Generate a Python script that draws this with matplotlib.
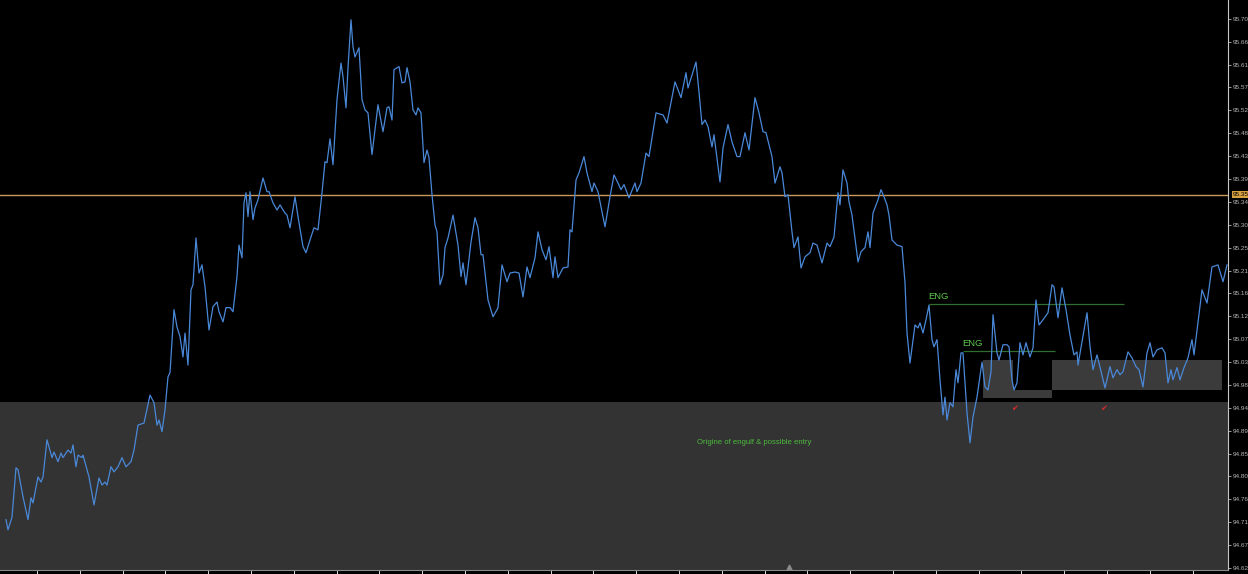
import matplotlib
matplotlib.use('Agg')
import matplotlib.pyplot as plt
from matplotlib.patches import Rectangle
import numpy as np

plt.rcParams['font.family'] = ['Liberation Sans', 'DejaVu Sans']

# price path (bar index, close)
bars = [6, 8, 12, 16, 18, 23, 28, 31, 33, 38, 41, 43, 47, 52, 54, 58, 61, 63, 68, 71,
        73, 76, 78, 82, 83, 89, 94, 99, 102, 105, 107, 111, 114, 118, 122, 126, 131, 134, 138, 144,
        150, 154, 157, 159, 162, 165, 168,
        170, 174, 177, 180, 183, 185, 188, 191, 193, 196, 199, 202, 205, 209, 213, 217, 219, 223, 226, 230,
        233, 237, 239, 242, 244, 246, 248, 250, 253, 255, 258, 263, 267, 269, 273, 277, 280, 285, 287, 290,
        295, 298, 303, 306, 310, 314, 318, 322, 325, 327, 330, 333, 337, 341, 343, 346, 348, 351,
        353, 355, 359, 362, 365, 368, 372, 378, 383, 387, 389, 392, 394, 399, 402, 405, 407, 410, 413, 416,
        418, 421, 424, 427, 429, 432, 435, 437, 440, 443, 445, 448, 453, 458, 461, 463, 466, 471, 475, 478,
        481, 483, 488, 493, 497, 498, 502, 507, 510, 515, 519, 523,
        527, 530, 535, 538, 542, 546, 549, 553, 555, 558, 563, 568, 570, 572, 576, 579, 584, 587, 592, 594,
        598, 605, 610, 614, 618, 621, 624, 629, 635, 637, 641, 646, 649, 656, 663, 667, 675, 681, 686, 688, 696,
        699, 702, 705, 708, 712, 714, 720, 723, 728, 732, 737, 740, 745, 749, 755, 759, 763, 766, 772, 775,
        780, 782, 785, 788, 792, 794, 798, 801, 805, 810, 813, 817, 822, 827, 830, 834, 838, 840, 843, 847,
        849, 852, 858, 861, 865, 868, 870, 873, 878, 881, 884, 887, 889, 892,
        897, 902, 905, 907, 910, 915, 918, 920, 923, 926, 929, 932, 934, 937, 940, 943, 945, 947, 950, 953,
        956, 958, 961, 963, 967, 970, 973, 977, 982, 985, 988, 991, 993, 997, 999, 1003, 1007, 1009, 1012, 1014,
        1017, 1020, 1023, 1026, 1030, 1033, 1036, 1039, 1043,
        1048, 1052, 1054, 1058, 1062, 1066, 1070, 1074, 1077, 1078, 1082, 1087, 1090, 1093, 1097, 1099, 1105, 1110,
        1113, 1117, 1120, 1123, 1128, 1132, 1136, 1139, 1143, 1147, 1150, 1153, 1157, 1162, 1165, 1168, 1171, 1173,
        1177, 1180, 1184, 1188, 1192, 1194, 1202, 1207, 1212, 1218, 1223, 1227]

prices = [94.715, 94.695, 94.720, 94.817, 94.813, 94.760, 94.715, 94.758, 94.748, 94.799,
          94.789, 94.799, 94.872, 94.837, 94.848, 94.829, 94.846, 94.837, 94.852, 94.846,
          94.862, 94.819, 94.842, 94.837, 94.842, 94.799, 94.744, 94.797, 94.783, 94.789,
          94.783, 94.819, 94.809, 94.819, 94.837, 94.819, 94.829, 94.852, 94.901, 94.905,
          94.960, 94.945, 94.901, 94.911, 94.888, 94.931, 94.996,
          95.004, 95.128, 95.094, 95.075, 95.035, 95.082, 95.019, 95.167, 95.177, 95.269,
          95.200, 95.216, 95.173, 95.088, 95.134, 95.143, 95.124, 95.104, 95.132, 95.132,
          95.124, 95.193, 95.255, 95.230, 95.338, 95.358, 95.311, 95.360, 95.305, 95.328,
          95.344, 95.387, 95.360, 95.360, 95.338, 95.324, 95.334, 95.318, 95.314, 95.289,
          95.350, 95.311, 95.252, 95.240, 95.265, 95.289, 95.285, 95.358, 95.419, 95.417,
          95.464, 95.413, 95.541, 95.613, 95.586, 95.525, 95.604, 95.698,
          95.645, 95.625, 95.643, 95.541, 95.521, 95.515, 95.433, 95.531, 95.478, 95.525,
          95.527, 95.501, 95.600, 95.606, 95.574, 95.576, 95.604, 95.576, 95.521, 95.511,
          95.525, 95.515, 95.417, 95.442, 95.427, 95.354, 95.295, 95.281, 95.177, 95.196,
          95.250, 95.269, 95.314, 95.255, 95.193, 95.220, 95.177, 95.261, 95.309, 95.289,
          95.236, 95.236, 95.147, 95.114, 95.128, 95.132, 95.216, 95.183, 95.200, 95.202,
          95.200, 95.153,
          95.212, 95.191, 95.230, 95.281, 95.246, 95.226, 95.252, 95.191, 95.232, 95.191,
          95.210, 95.212, 95.285, 95.281, 95.383, 95.397, 95.429, 95.397, 95.360, 95.377,
          95.360, 95.291, 95.350, 95.393, 95.377, 95.364, 95.374, 95.348, 95.377, 95.360,
          95.377, 95.436, 95.429, 95.515, 95.511, 95.495, 95.576, 95.545, 95.594, 95.564, 95.615,
          95.556, 95.492, 95.501, 95.488, 95.448, 95.472, 95.379, 95.446, 95.492, 95.458,
          95.429, 95.429, 95.476, 95.442, 95.545, 95.515, 95.478, 95.476, 95.429, 95.377,
          95.409, 95.397, 95.350, 95.354, 95.281, 95.250, 95.271, 95.210, 95.232, 95.240,
          95.259, 95.255, 95.220, 95.259, 95.252, 95.271, 95.358, 95.334, 95.403, 95.377,
          95.340, 95.314, 95.222, 95.242, 95.250, 95.281, 95.250, 95.318, 95.344, 95.364,
          95.350, 95.334, 95.314, 95.265,
          95.255, 95.252, 95.181, 95.082, 95.023, 95.098, 95.092, 95.102, 95.082, 95.108,
          95.137, 95.069, 95.055, 95.069, 94.990, 94.921, 94.956, 94.911, 94.945, 94.937,
          95.010, 94.984, 95.043, 95.043, 94.925, 94.866, 94.917, 94.956, 95.025, 94.976,
          94.970, 95.006, 95.118, 95.043, 95.029, 95.059, 95.059, 95.055, 94.990, 94.970,
          94.984, 95.063, 95.039, 95.063, 95.035, 95.053, 95.147, 95.098, 95.108,
          95.122, 95.177, 95.173, 95.112, 95.171, 95.128, 95.078, 95.039, 95.045, 95.019,
          95.065, 95.122, 95.055, 95.010, 95.039, 95.023, 94.974, 95.016, 94.994, 95.010,
          95.000, 95.006, 95.045, 95.033, 95.016, 95.010, 94.976, 95.043, 95.063, 95.035,
          95.049, 95.053, 95.043, 94.984, 95.010, 94.990, 95.014, 94.990, 95.014, 95.033,
          95.069, 95.039, 95.167, 95.141, 95.212, 95.216, 95.183, 95.216]

# right scale labels
ytick_labels = ['94.62', '94.67', '94.71', '94.76', '94.80', '94.85', '94.89', '94.94', '94.98',
                '95.03', '95.07', '95.12', '95.16', '95.21', '95.25', '95.30', '95.34', '95.39',
                '95.43', '95.48', '95.52', '95.57', '95.61', '95.66', '95.70']

# drawn levels / zones
resistance = 95.354
zone_top = 94.947
eng_levels = [(929, 1124, 95.139), (963, 1055, 95.047)]
boxes = [(983, 1052, 94.955, 95.029), (1052, 1222, 94.970, 95.029)]
box_cut = (1013, 1052, 94.970, 95.029)
checks = [(1015, 94.933), (1104, 94.933)]

fig = plt.figure(figsize=(12.48, 5.74), dpi=100, facecolor='black')
ax = fig.add_axes([0, 4 / 574, 1228 / 1248, 570 / 574])
ax.set_facecolor('black')
ax.set_xlim(0, 1228)
ax.set_ylim(94.616, 95.737)

ax.axhspan(94.616, zone_top, color='#333333', lw=0, zorder=0)
for x0, x1, y0, y1 in boxes:
    ax.add_patch(Rectangle((x0, y0), x1 - x0, y1 - y0, color='#3b3b3b', lw=0, zorder=1))
x0, x1, y0, y1 = box_cut
ax.add_patch(Rectangle((x0, y0), x1 - x0, y1 - y0, color='black', lw=0, zorder=1))

ax.axhline(resistance, color='#c99a5b', lw=1.0, zorder=2)
for x0, x1, lvl in eng_levels:
    ax.hlines(lvl, x0, x1, color='#2f6e2f', lw=0.9, zorder=2)
    ax.text(x0 - 1, lvl + 0.006, 'ENG', color='#5cc84a', fontsize=6.8, va='bottom', ha='left')

ax.plot(bars, prices, color='#4a88d8', lw=0.9, zorder=3)

for cx, cy in checks:
    ax.text(cx, cy, '✔', color='#d42a2a', fontsize=6, ha='center', va='center',
            family=['DejaVu Sans'])
ax.text(754, 94.866, 'Origine of engulf & possible entry', color='#4cbb3c', fontsize=5.6,
        ha='center', va='center')
ax.plot(789, 94.621, marker='^', color='#8a8a8a', ms=3.5, zorder=4, clip_on=False)

# axes styling
ax.yaxis.tick_right()
ax.set_yticks(np.linspace(94.62, 95.70, 25))
ax.set_yticklabels(ytick_labels)
ax.tick_params(axis='y', colors='#b5b5b5', labelsize=4.6, length=2, width=0.6, pad=1.5)
ax.set_xticks(np.arange(37, 1228, 42.8))
ax.set_xticklabels([])
ax.tick_params(axis='x', colors='white', length=3, width=0.6)
for side in ['top', 'left']:
    ax.spines[side].set_visible(False)
ax.spines['right'].set_color('#c8c8c8')
ax.spines['bottom'].set_color('#8a8a8a')
ax.spines['right'].set_linewidth(0.8)

ax.text(1.004, resistance, '95.35', transform=ax.get_yaxis_transform(), fontsize=4.6,
        color='black', va='center', ha='left',
        bbox=dict(boxstyle='square,pad=0.15', fc='#d8a040', ec='none'))

fig.savefig('out.png', dpi=100, facecolor='black')
